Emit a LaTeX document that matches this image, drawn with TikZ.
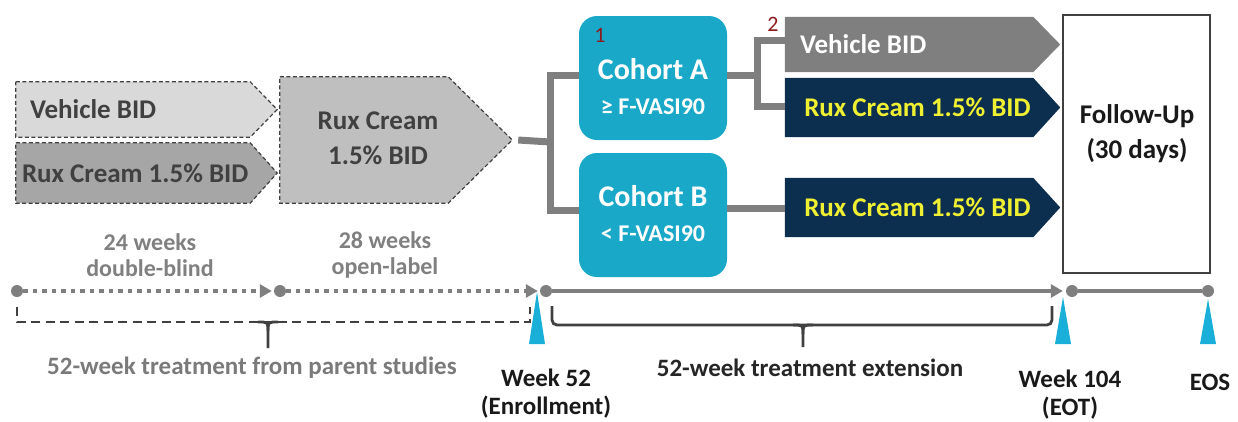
\documentclass[tikz,border=0pt]{standalone}
\usepackage{fontspec}
\setmainfont{Carlito}
\usetikzlibrary{calc,arrows.meta}

\definecolor{grayLight}{HTML}{D9D9D9}
\definecolor{grayDark}{HTML}{A6A6A6}
\definecolor{grayMid}{HTML}{BFBFBF}
\definecolor{connGray}{HTML}{7F7F7F}
\definecolor{inkDark}{HTML}{404040}
\definecolor{cohortCyan}{HTML}{1AA8C8}
\definecolor{navyBox}{HTML}{0C2E4F}
\definecolor{rxYellow}{HTML}{F0F032}
\definecolor{noteRed}{HTML}{8B1C1C}
\definecolor{markCyan}{HTML}{1AAFD8}
\definecolor{labelGray}{HTML}{808080}

% pentagon outline (arrow-shaped box) built on the anchors of a body node
\newcommand{\tagpath}[3][]{%
  \path[#1] (#2.north west) -- ($(#2.north east)+(-#3,0)$) -- (#2.east)
    -- ($(#2.south east)+(-#3,0)$) -- (#2.south west) -- cycle;}

\begin{document}
\begin{tikzpicture}[x=1pt,y=-1pt,
  body/.style={rectangle, inner sep=0pt},
  boxtxt/.style={font=\bfseries\fontsize{27}{35}\selectfont, inner sep=0pt, align=center},
  dashbox/.style={draw=inkDark, line width=1.2pt, dash pattern=on 4pt off 2.5pt},
  conn/.style={draw=connGray, line width=7pt},
  cohort/.style={rectangle, rounded corners=18pt, fill=cohortCyan,
    minimum width=148pt, minimum height=124pt, inner sep=0pt},
  cohtxt/.style={text=white, font=\bfseries\fontsize{30}{35}\selectfont, align=center, inner sep=0pt},
  note/.style={text=noteRed, font=\fontsize{22}{24}\selectfont, inner sep=0pt},
  dot/.style={circle, fill=connGray, minimum size=12pt, inner sep=0pt},
  dotline/.style={draw=connGray, line width=4.5pt, dash pattern=on 4.5pt off 5pt,
    -{Triangle[length=12pt,width=13pt]}},
  solidline/.style={draw=connGray, line width=3.2pt},
  bracket/.style={line width=2.8pt},
  marker/.style={fill=markCyan},
  smalltxt/.style={font=\bfseries\fontsize{24}{26}\selectfont, align=center, inner sep=0pt},
  bottomtxt/.style={font=\bfseries\fontsize{25}{28}\selectfont, align=center, inner sep=0pt}
]
\useasboundingbox (0,0) rectangle (1238,421);

% ---------- parent studies ----------
\node[body, minimum width=261pt, minimum height=55pt] (vehL) at (146.5,109.5) {};
\tagpath[dashbox, fill=grayLight]{vehL}{27}
\node[boxtxt, text=inkDark, anchor=west] (vehLt) at ($(vehL.west)+(14,0)$) {Vehicle BID};

\node[body, minimum width=261pt, minimum height=60pt] (ruxL) at (146.5,173) {};
\tagpath[dashbox, fill=grayDark]{ruxL}{27}
\node[boxtxt, text=inkDark, anchor=west] (ruxLt) at ($(ruxL.west)+(6,0)$) {Rux Cream 1.5\% BID};

\node[body, minimum width=232pt, minimum height=126pt] (ruxM) at (396,140) {};
\tagpath[dashbox, fill=grayMid]{ruxM}{64}
\node[boxtxt, text=inkDark] (ruxMt) at (378,138) {Rux Cream\\1.5\% BID};

% ---------- cohorts ----------
\node[cohort] (cohA) at (653,78) {};
\node[cohtxt] (cohAt) at (653,87) {Cohort A\\{\fontsize{24}{24}\selectfont ≥ F-VASI90}};
\node[note] (n1) at (600,35) {1};

\node[cohort] (cohB) at (653,215) {};
\node[cohtxt] (cohBt) at (653,214) {Cohort B\\{\fontsize{24}{24}\selectfont < F-VASI90}};

\coordinate (split1) at (550,142);
\draw[conn] (ruxM.east) ++(6,0) -- (split1);
\draw[conn] (cohA.west |- 0,75) -| (split1) |- (cohB.west |- 0,210);

% ---------- extension arms ----------
\node[body, minimum width=275pt, minimum height=55pt] (vehR) at (922.5,44.5) {};
\tagpath[fill=connGray]{vehR}{27}
\node[boxtxt, text=white, anchor=west] (vehRt) at ($(vehR.west)+(15,0)$) {Vehicle BID};
\node[note] (n2) at (773,24) {2};

\node[body, minimum width=275pt, minimum height=59pt] (ruxR1) at (922.5,107.5) {};
\tagpath[fill=navyBox]{ruxR1}{27}
\node[boxtxt, text=rxYellow] (ruxR1t) at (917.5,107.5) {Rux Cream 1.5\% BID};

\node[body, minimum width=275pt, minimum height=59pt] (ruxR2) at (922.5,207.5) {};
\tagpath[fill=navyBox]{ruxR2}{27}
\node[boxtxt, text=rxYellow] (ruxR2t) at (917.5,207.5) {Rux Cream 1.5\% BID};

\coordinate (split2) at (757,75);
\draw[conn] (cohA.east |- split2) -- (split2);
\draw[conn] (vehR.west |- 0,40) -| (split2) |- (ruxR1.west |- 0,106);
\draw[conn] (cohB.east |- 0,208) -- (ruxR2.west |- 0,208);

% ---------- follow-up ----------
\node[rectangle, draw=inkDark, line width=2pt, fill=white,
      minimum width=147pt, minimum height=258pt] (fu) at (1136.5,144) {};
\node[boxtxt, text=black!90] (fut) at (1137,134) {Follow-Up\\(30 days)};

% ---------- timeline ----------
\node[dot] (d1) at (17,291) {};
\node[dot] (d2) at (280,291) {};
\node[dot] (d3) at (546,291) {};
\node[dot] (d4) at (1072,291) {};
\node[dot] (d5) at (1208,291) {};
\draw[dotline, shorten >=2pt] (d1) -- (d2);
\draw[dotline, shorten >=2pt] (d2) -- (d3);
\draw[solidline, -{Triangle[length=12pt,width=13pt]}, shorten >=3pt] (d3) -- (d4);
\draw[solidline] (d4) -- (d5);

\node[smalltxt, text=labelGray] (p1) at (150,255) {24 weeks\\double-blind};
\node[smalltxt, text=labelGray] (p2) at (385,255) {28 weeks\\open-label};

% dashed brace under the parent studies
\draw[bracket, draw=inkDark, dash pattern=on 9pt off 5.5pt]
  (17,307) -- (17,322) -- (530,322) -- (530,307);
\draw[bracket, draw=inkDark] (258,322) .. controls (268,322) .. (268,331) -- (268,348);
\draw[bracket, draw=inkDark] (278,322) .. controls (268,322) .. (268,331);

% solid brace under the extension
\draw[bracket, draw=inkDark, rounded corners=5pt]
  (552,306) -- (552,325) -- (1052,325) -- (1052,306);
\draw[bracket, draw=inkDark] (793,325) .. controls (803,325) .. (803,334) -- (803,347);
\draw[bracket, draw=inkDark] (813,325) .. controls (803,325) .. (803,334);

% visit markers
\fill[marker] (537,292) -- (545,344) -- (529,344) -- cycle;
\fill[marker] (1063,297) -- (1071,344) -- (1055,344) -- cycle;
\fill[marker] (1208,299) -- (1216,344) -- (1200,344) -- cycle;

\node[bottomtxt, text=labelGray!95!black] (parent) at (252,368) {52-week treatment from parent studies};
\node[bottomtxt, text=black!85] (ext) at (810,368) {52-week treatment extension};
\node[bottomtxt, text=black!90] (w52) at (546,394) {Week 52\\(Enrollment)};
\node[bottomtxt, text=black!90] (w104) at (1070,395) {Week 104\\(EOT)};
\node[bottomtxt, text=black!90] (eos) at (1210,382) {EOS};
\end{tikzpicture}
\end{document}
